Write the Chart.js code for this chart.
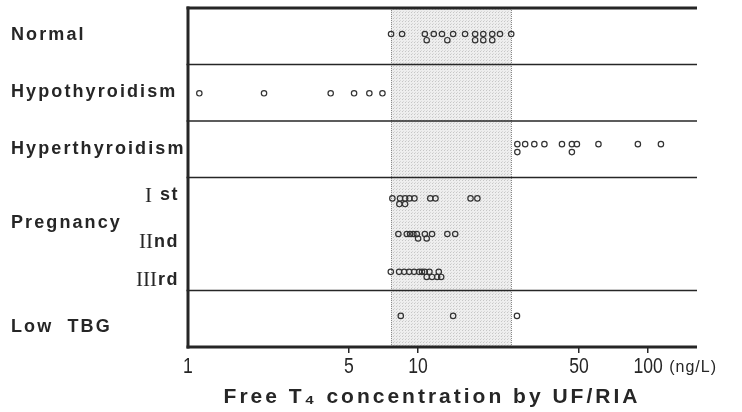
<!DOCTYPE html>
<html>
<head>
<meta charset="utf-8">
<script src="https://cdn.jsdelivr.net/npm/chart.js@4.4.1/dist/chart.umd.min.js"></script>
<style>
  html, body { margin: 0; padding: 0; background: #ffffff; }
  #c { display: block; }
</style>
</head>
<body>
<canvas id="c" width="742" height="412"></canvas>
<script>
// ---------------- DATA (free T4, ng/L) ----------------
const categories = ['Normal', 'Hypothyroidism', 'Hyperthyroidism', 'Pregnancy', 'Low  TBG'];
const pregnancyStages = [['I', 'st'], ['II', 'nd'], ['III', 'rd']];
const xTickValues = [1, 5, 10, 50, 100];
const xUnit = '(ng/L)';
const xTitle = 'Free T\u2084 concentration by UF/RIA';
const normalRange = [7.63, 25.4];

const normalValues       = [7.63, 8.52, 10.7, 11.7, 12.7, 14.2, 16.0, 17.7, 19.2, 21.0, 22.7, 25.4];
const normalStacked      = [10.9, 13.4, 17.7, 19.2, 21.0];
const hypoValues         = [1.12, 2.14, 4.17, 5.27, 6.14, 7.0];
const hyperValues        = [27.0, 29.2, 32.0, 35.4, 42.2, 46.6, 49.0, 60.8, 90.2, 113.6];
const hyperStacked       = [27.0, 46.6];
const preg1Values        = [7.73, 8.35, 8.78, 9.17, 9.64, 11.3, 11.9, 16.9, 18.1];
const preg1Stacked       = [8.29, 8.78];
const preg2Values        = [8.21, 8.93, 9.23, 9.54, 9.87, 10.7, 11.5, 13.4, 14.5];
const preg2Stacked       = [10.0, 10.9];
const preg3Values        = [7.61, 8.27, 8.70, 9.14, 9.61, 10.1, 10.4, 10.7, 11.2, 12.3];
const preg3Stacked       = [10.9, 11.5, 12.1, 12.6];
const lowTbgValues       = [8.41, 14.2, 26.9];

// ---------------- LAYOUT (row levels on a 0..6 band axis) ----------------
const rowBounds = [6, 5, 4, 3, 1, 0];
const labelLevels = [5.52, 4.51, 3.50, 2.19, 0.36];
const stageLevels = [2.69, 1.86, 1.19];
const pointLevels = {
  normal: [5.54, 5.43], hypo: [4.49], hyper: [3.59, 3.45],
  preg1: [2.63, 2.53], preg2: [2.00, 1.92], preg3: [1.33, 1.24], low: [0.55]
};

const series = [
  [normalValues, pointLevels.normal[0]], [normalStacked, pointLevels.normal[1]],
  [hypoValues, pointLevels.hypo[0]],
  [hyperValues, pointLevels.hyper[0]], [hyperStacked, pointLevels.hyper[1]],
  [preg1Values, pointLevels.preg1[0]], [preg1Stacked, pointLevels.preg1[1]],
  [preg2Values, pointLevels.preg2[0]], [preg2Stacked, pointLevels.preg2[1]],
  [preg3Values, pointLevels.preg3[0]], [preg3Stacked, pointLevels.preg3[1]],
  [lowTbgValues, pointLevels.low[0]]
];

const ink = '#262626';
const datasets = series.map(([vals, lvl]) => ({
  data: vals.map(v => ({ x: v, y: lvl })),
  pointStyle: 'circle',
  pointRadius: 2.7,
  pointBorderWidth: 1.2,
  pointBorderColor: '#333333',
  pointBackgroundColor: 'rgba(0,0,0,0)',
  showLine: false
}));

function makePattern(ctx) {
  const p = document.createElement('canvas');
  p.width = 3; p.height = 3;
  const g = p.getContext('2d');
  g.fillStyle = '#eeeeee';
  g.fillRect(0, 0, 3, 3);
  g.fillStyle = '#c6c6c6';
  g.fillRect(0, 0, 1, 1);
  g.fillStyle = '#d8d8d8';
  g.fillRect(1, 2, 1, 1);
  return ctx.createPattern(p, 'repeat');
}

const framePlugin = {
  id: 'frame',
  beforeDatasetsDraw(chart) {
    const { ctx, chartArea: a, scales: { x, y } } = chart;
    ctx.save();
    const bx0 = x.getPixelForValue(normalRange[0]);
    const bx1 = x.getPixelForValue(normalRange[1]);
    ctx.fillStyle = makePattern(ctx);
    ctx.fillRect(bx0, a.top, bx1 - bx0, a.bottom - a.top);
    ctx.strokeStyle = '#8a8a8a';
    ctx.lineWidth = 1;
    ctx.setLineDash([1, 1]);
    [bx0, bx1].forEach(px => {
      ctx.beginPath();
      ctx.moveTo(Math.round(px) + 0.5, a.top);
      ctx.lineTo(Math.round(px) + 0.5, a.bottom);
      ctx.stroke();
    });
    ctx.setLineDash([]);
    ctx.strokeStyle = ink;
    rowBounds.forEach(b => {
      const py = y.getPixelForValue(b);
      const outer = (b === 6 || b === 0);
      ctx.lineWidth = outer ? 3 : 1.4;
      ctx.beginPath();
      ctx.moveTo(a.left - 1.5, py);
      ctx.lineTo(a.right, py);
      ctx.stroke();
    });
    ctx.lineWidth = 3;
    ctx.beginPath();
    ctx.moveTo(a.left, y.getPixelForValue(6) - 1.5);
    ctx.lineTo(a.left, y.getPixelForValue(0) + 1.5);
    ctx.stroke();
    ctx.restore();
  },
  afterDraw(chart) {
    const { ctx, scales: { x, y } } = chart;
    ctx.save();
    ctx.fillStyle = ink;
    ctx.textBaseline = 'middle';
    ctx.textAlign = 'left';
    ctx.font = 'bold 18px "Liberation Sans", Arial, sans-serif';
    ctx.letterSpacing = '2.1px';
    categories.forEach((c, i) => {
      ctx.fillText(c, 11, y.getPixelForValue(labelLevels[i]));
    });
    const rightEdge = 179;
    pregnancyStages.forEach(([num, suf], i) => {
      const py = y.getPixelForValue(stageLevels[i]);
      ctx.letterSpacing = '1.5px';
      ctx.font = 'bold 18px "Liberation Sans", Arial, sans-serif';
      const ws = ctx.measureText(suf).width;
      ctx.fillText(suf, rightEdge - ws, py);
      ctx.letterSpacing = '0px';
      ctx.font = '21px "Liberation Serif", "Times New Roman", serif';
      const wn = ctx.measureText(num).width;
      const gap = (i === 0) ? 8 : 1;
      ctx.fillText(num, rightEdge - ws - gap - wn, py + 1);
    });
    // tick labels (condensed digits), positioned by the x scale
    ctx.letterSpacing = '0px';
    ctx.font = '22px "Liberation Sans", Arial, sans-serif';
    ctx.textAlign = 'center';
    x.ticks.forEach(t => {
      const px = x.getPixelForValue(t.value);
      ctx.save();
      ctx.translate(px, 367);
      ctx.scale(0.8, 1);
      ctx.fillText(String(t.value), 0, 0);
      ctx.restore();
    });
    ctx.textAlign = 'left';
    ctx.letterSpacing = '1px';
    ctx.font = '16px "Liberation Sans", Arial, sans-serif';
    ctx.fillText(xUnit, x.getPixelForValue(100) + 21, 368);
    ctx.textAlign = 'center';
    ctx.letterSpacing = '3px';
    ctx.font = 'bold 21px "Liberation Sans", Arial, sans-serif';
    ctx.fillText(xTitle, 432, 397);
    ctx.restore();
  }
};

new Chart(document.getElementById('c'), {
  type: 'scatter',
  data: { datasets },
  plugins: [framePlugin],
  options: {
    responsive: false,
    animation: false,
    devicePixelRatio: 1,
    layout: { padding: { left: 188, right: 45, top: 8, bottom: 0 } },
    plugins: { legend: { display: false }, tooltip: { enabled: false } },
    scales: {
      x: {
        type: 'logarithmic',
        min: 1,
        max: 163,
        afterBuildTicks: s => { s.ticks = xTickValues.map(v => ({ value: v })); },
        afterFit: s => { s.height = 65; },
        border: { display: false },
        grid: {
          drawOnChartArea: false,
          drawTicks: true,
          tickLength: 6,
          lineWidth: 1.5,
          tickColor: c => (c.tick && c.tick.value === 1) ? 'rgba(0,0,0,0)' : ink
        },
        ticks: { display: false, autoSkip: false, maxRotation: 0 }
      },
      y: { type: 'linear', min: 0, max: 6, display: false }
    }
  }
});
</script>
</body>
</html>
